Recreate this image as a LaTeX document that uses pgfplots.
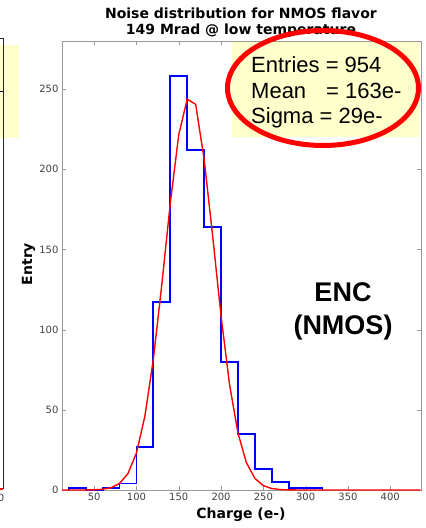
\documentclass[border=0pt]{standalone}
\usepackage{pgfplots}
\pgfplotsset{compat=1.18}
\usepackage{fontspec}
\setmainfont{DejaVu Sans}
\newfontfamily\arial{Liberation Sans}
\definecolor{ybox}{HTML}{FFFFCC}
\begin{document}
\begin{tikzpicture}[x=1pt,y=1pt]
\useasboundingbox (0,0) rectangle (426,528);
\clip (0,0) rectangle (426,528);
% partial neighbouring panel on the left
\fill[ybox] (0,390) rectangle (19,483);
\draw[black!85, line width=1pt] (0,489) -- (3.3,489) -- (3.3,39);
\draw[red, line width=1.2pt] (0,39) -- (3.3,39);
\draw[black, line width=1pt] (0,436) -- (3,436);
\node[font=\fontsize{10}{12}\selectfont, text=black!75] at (1,30.5) {0};
% titles
\node[font=\fontsize{14}{16}\selectfont\bfseries] at (241,515) {Noise distribution for NMOS flavor};
\node[font=\fontsize{14}{16}\selectfont\bfseries] at (241,497) {149 Mrad @ low temperature};
\begin{axis}[
  at={(62pt,38pt)}, anchor=south west,
  scale only axis, width=358.7pt, height=449pt,
  xmin=12, xmax=436, ymin=0, ymax=280,
  xtick={50,100,...,400}, ytick={0,50,...,250},
  tick align=inside, major tick length=4pt,
  axis line style={gray!80}, tick style={gray!80},
  ticklabel style={font=\fontsize{10}{12}\selectfont, text=black!75},
  /pgf/number format/assume math mode=true,
  scaled ticks=false,
]
\addplot[const plot mark left, blue, line width=1.8pt, mark=none] coordinates {
(20,0) (20,1) (40,0) (60,1) (80,4) (100,27) (120,117) (140,258) (160,212)
(180,164) (200,80) (220,35) (240,13) (260,5) (280,1) (300,1) (320,0)};
\addplot[red, line width=1.4pt, mark=none] coordinates {
(0,0) (10,0) (20,0) (30,0) (40,0.03) (50,0.12) (60,0.45) (70,1.43) (80,4.08)
(90,10.3) (100,23.1) (110,46.1) (120,81.6) (130,128.2) (140,178.9) (150,221.6)
(160,243.7) (170,240.5) (180,206.3) (190,158.8) (200,108.6) (210,65.9) (220,35.5)
(230,17.0) (240,7.2) (250,2.7) (260,0.91) (270,0.27) (280,0.07) (290,0.02)
(300,0) (320,0) (340,0) (360,0) (380,0) (400,0) (420,0) (440,0)};
\end{axis}
% axis labels
\node[font=\fontsize{14}{16}\selectfont\bfseries] at (241,13) {Charge (e-)};
\node[font=\fontsize{14}{16}\selectfont\bfseries, rotate=90] at (28.5,264) {Entry};
% statistics box with red ellipse
\fill[ybox] (232,391) rectangle (420,486);
\node[font=\arial\fontsize{22}{26}\selectfont, anchor=base west, inner sep=0pt] at (251,455.3) {Entries = 954};
\node[font=\arial\fontsize{22}{26}\selectfont, anchor=base west, inner sep=0pt] at (251,429.7) {Mean};
\node[font=\arial\fontsize{22}{26}\selectfont, anchor=base west, inner sep=0pt] at (326,429.7) {= 163e-};
\node[font=\arial\fontsize{22}{26}\selectfont, anchor=base west, inner sep=0pt] at (251,404.7) {Sigma = 29e-};
\draw[red, line width=5pt] (323,440) ellipse [x radius=95.5, y radius=57.5];
% ENC label
\node[font=\arial\fontsize{27}{33}\selectfont\bfseries, align=center] at (343,216.5) {ENC\\(NMOS)};
\end{tikzpicture}
\end{document}
